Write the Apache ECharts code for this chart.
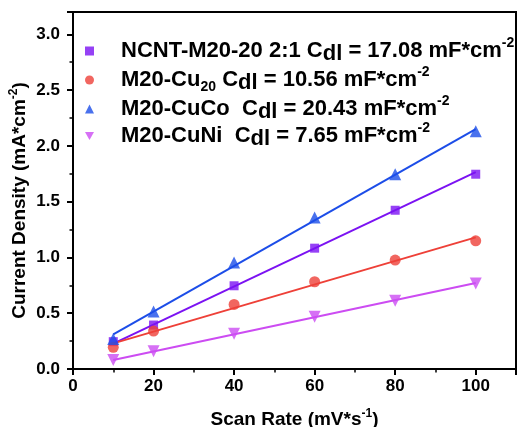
<!DOCTYPE html>
<html><head><meta charset="utf-8">
<script src="https://cdn.jsdelivr.net/npm/echarts@6/dist/echarts.min.js"></script>
<style>html,body{margin:0;padding:0;background:#fff}#c{width:518px;height:427px}</style>
</head><body><div id="c"></div>
<script>
// ---- data ----
const scanRates = [10, 20, 40, 60, 80, 100];
const ncntM20 = [0.245, 0.394, 0.746, 1.083, 1.423, 1.746];
const m20Cu20 = [0.194, 0.340, 0.579, 0.782, 0.976, 1.149];
const m20CuCo = [0.269, 0.516, 0.955, 1.358, 1.746, 2.130];
const m20CuNi = [0.080, 0.158, 0.316, 0.468, 0.611, 0.767];
// fitted lines (end points at x = 10 and x = 100)
const fitX = [10, 100];
const fitNcnt = [0.228, 1.765];
const fitCu20 = [0.230, 1.180];
const fitCuCo = [0.311, 2.150];
const fitCuNi = [0.081, 0.770];
const seriesNames = ['NCNT-M20-20 2:1', 'M20-Cu20', 'M20-CuCo', 'M20-CuNi'];
const legendTexts = [
  '{b|NCNT-M20-20 2:1 C}{d|dl}{b| = 17.08 mF*cm}{s|-2}',
  '{b|M20-Cu}{u|20}{b| C}{d|dl}{b| = 10.56 mF*cm}{s|-2}',
  '{b|M20-CuCo  C}{d|dl}{b| = 20.43 mF*cm}{s|-2}',
  '{b|M20-CuNi  C}{d|dl}{b| = 7.65 mF*cm}{s|-2}'
];
const xTitle = '{a|Scan Rate (mV*s}{s|-1}{a|)}';
const yTitle = '{a|Current Density (mA*cm}{s|-2}{a|)}';

const FONT = '"Liberation Sans", Arial, sans-serif';
const colors = ['#7B12F2', '#EE4038', '#1C4DE8', '#CC4CF2'];
const symbols = ['rect', 'circle', 'triangle', 'path://M0,0 L10,0 L5,8.7 Z'];
const symbolSizes = [9, 11, 12, 12];
const pts = [ncntM20, m20Cu20, m20CuCo, m20CuNi];
const fits = [fitNcnt, fitCu20, fitCuCo, fitCuNi];

const legendRich = {
  b: {fontSize: 22, fontWeight: 'bold', fontFamily: FONT, color: '#000', lineHeight: 24},
  d: {fontSize: 22, fontWeight: 'bold', fontFamily: FONT, color: '#000', lineHeight: 19, padding: [5, 0, 0, 0]},
  s: {fontSize: 14, fontWeight: 'bold', fontFamily: FONT, color: '#000', lineHeight: 8, padding: [0, 0, 16, 0]},
  u: {fontSize: 14, fontWeight: 'bold', fontFamily: FONT, color: '#000', lineHeight: 10, padding: [13.5, 0, 0, 0]}
};
const legendTops = [36, 65, 94, 121];

const series = [];
const legends = [];
for (let i = 0; i < 4; i++) {
  series.push({
    name: seriesNames[i], type: 'scatter', symbol: symbols[i], symbolSize: symbolSizes[i],
    itemStyle: {color: colors[i]}, z: 3,
    data: scanRates.map((x, k) => [x, pts[i][k]])
  });
  series.push({
    name: seriesNames[i] + ' fit', type: 'line', showSymbol: false, symbol: 'none',
    lineStyle: {color: colors[i], width: 2}, z: 2,
    data: fitX.map((x, k) => [x, fits[i][k]])
  });
  legends.push({
    data: [seriesNames[i]], left: 85, top: legendTops[i], orient: 'vertical', padding: 0,
    itemWidth: 9, itemHeight: 9, selectedMode: false,
    formatter: () => legendTexts[i],
    textStyle: {fontSize: 22, fontWeight: 'bold', fontFamily: FONT, color: '#000', padding: [0, 0, 0, 22], rich: legendRich}
  });
}

const axisRich = {
  a: {fontSize: 19, fontWeight: 'bold', fontFamily: FONT, color: '#000', lineHeight: 22},
  s: {fontSize: 12, fontWeight: 'bold', fontFamily: FONT, color: '#000', lineHeight: 10, padding: [0, 0, 12, 0]}
};

const chart = echarts.init(document.getElementById('c'), null, {renderer: 'canvas'});
chart.setOption({
  animation: false,
  backgroundColor: '#fff',
  grid: {left: 73, top: 12, right: 2, bottom: 58, containLabel: false, outerBoundsMode: 'none',
    show: true, borderColor: '#000', borderWidth: 2, backgroundColor: 'transparent'},
  legend: legends,
  xAxis: {
    type: 'value', min: 0, max: 110, interval: 20,
    name: xTitle, nameLocation: 'middle', nameGap: 40, nameMoveOverlap: false,
    nameTextStyle: {rich: axisRich},
    axisLine: {show: true, lineStyle: {color: '#000', width: 2}},
    axisTick: {show: true, length: 6, lineStyle: {color: '#000', width: 2}},
    minorTick: {show: true, splitNumber: 2, length: 3.5, lineStyle: {color: '#000', width: 1.5}},
    splitLine: {show: false},
    axisLabel: {showMaxLabel: false, margin: 9, fontSize: 17, fontWeight: 'bold', fontFamily: FONT, color: '#000'}
  },
  yAxis: {
    type: 'value', min: 0, max: 3.2, interval: 0.5,
    name: yTitle, nameLocation: 'middle', nameGap: 42, nameRotate: 90, nameMoveOverlap: false,
    nameTextStyle: {rich: axisRich, padding: [0, 20, 0, 0]},
    axisLine: {show: true, lineStyle: {color: '#000', width: 2}},
    axisTick: {show: true, length: 6, lineStyle: {color: '#000', width: 2}},
    minorTick: {show: true, splitNumber: 2, length: 3.5, lineStyle: {color: '#000', width: 1.5}},
    splitLine: {show: false},
    axisLabel: {showMaxLabel: false, margin: 13, fontSize: 17, fontWeight: 'bold', fontFamily: FONT, color: '#000',
      formatter: v => v.toFixed(1)}
  },
  series: series
});
</script></body></html>
